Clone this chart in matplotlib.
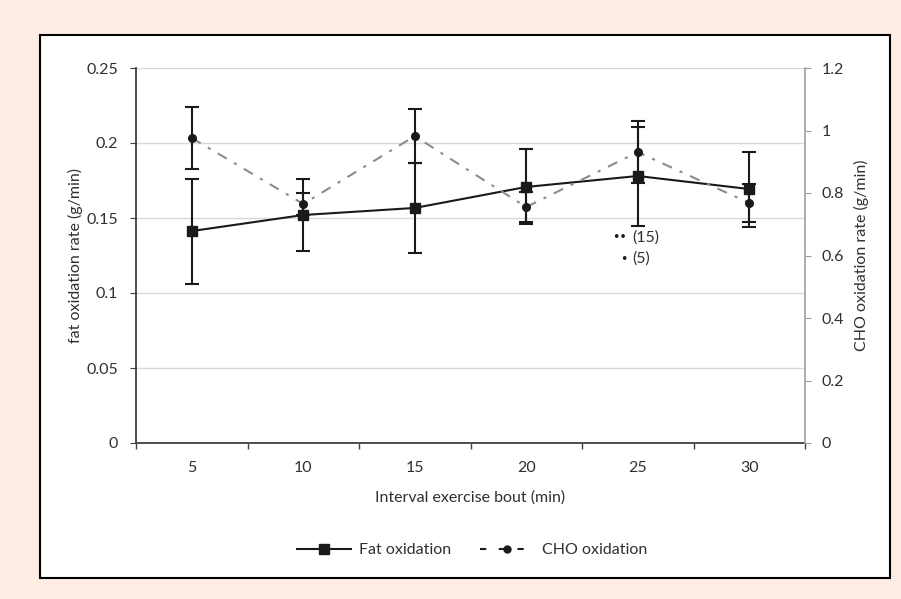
import matplotlib
matplotlib.use("Agg")
import matplotlib.pyplot as plt
from matplotlib.patches import Rectangle
from matplotlib.lines import Line2D

plt.rcParams['font.family'] = ['Lato', 'DejaVu Sans']

bouts = ["5", "10", "15", "20", "25", "30"]
fat_mean = [0.1413, 0.1520, 0.1567, 0.1707, 0.1780, 0.1693]
fat_err = [0.035, 0.024, 0.030, 0.025, 0.033, 0.025]
cho_mean = [0.976, 0.765, 0.982, 0.755, 0.931, 0.768]
cho_err = [0.099, 0.035, 0.086, 0.048, 0.099, 0.061]
left_ticks = [0, 0.05, 0.1, 0.15, 0.2, 0.25]
left_labels = ["0", "0.05", "0.1", "0.15", "0.2", "0.25"]
right_ticks = [0, 0.2, 0.4, 0.6, 0.8, 1.0, 1.2]
right_labels = ["0", "0.2", "0.4", "0.6", "0.8", "1", "1.2"]

W, H = 901, 599
fig = plt.figure(figsize=(W / 100, H / 100), dpi=100)
fig.patch.set_facecolor("#fdede4")
fig.patches.append(Rectangle((40 / W, 1 - 578 / H), 850 / W, 543 / H,
                             transform=fig.transFigure, facecolor="white",
                             edgecolor="black", linewidth=1.5, zorder=-5))

ax = fig.add_axes([136 / W, 1 - 443 / H, 669 / W, 375 / H])
ax.set_facecolor("none")
x = list(range(len(bouts)))

FS = 11.5
TC = "#303030"
ax.set_xlim(-0.5, len(bouts) - 0.5)
ax.set_ylim(0, 0.25)
ax.set_yticks(left_ticks)
ax.set_yticklabels(left_labels)
ax.grid(axis="y", color="#d9d9d9", linewidth=1)
ax.set_axisbelow(True)
ax.set_xticks([i - 0.5 for i in range(len(bouts) + 1)])
ax.set_xticklabels([])
ax.set_xticks(x, minor=True)
ax.set_xticklabels(bouts, minor=True)
ax.tick_params(axis="x", which="major", length=4, direction="out", color="#404040", width=1)
ax.tick_params(axis="x", which="minor", length=0, pad=13, labelsize=FS, labelcolor=TC)
ax.tick_params(axis="y", length=4, direction="out", color="#404040", labelsize=FS,
               labelcolor=TC, pad=9)
for s in ["top", "right"]:
    ax.spines[s].set_visible(False)
ax.spines["left"].set_color("#404040")
ax.spines["bottom"].set_color("#404040")
ax.spines["left"].set_linewidth(1.3)
ax.spines["bottom"].set_linewidth(1.3)

ax.errorbar(x, fat_mean, yerr=fat_err, color="#1a1a1a", marker="s", markersize=7,
            linewidth=1.5, elinewidth=1.5, capsize=5, capthick=1.5, zorder=3)

ax2 = ax.twinx()
ax2.set_ylim(0, 1.2)
ax2.set_yticks(right_ticks)
ax2.set_yticklabels(right_labels)
ax2.tick_params(axis="y", length=4, direction="out", color="#999999", labelsize=FS,
                labelcolor=TC, pad=8)
for s in ["top", "left", "bottom"]:
    ax2.spines[s].set_visible(False)
ax2.spines["right"].set_color("#a6a6a6")
ax2.spines["right"].set_linewidth(1.3)
ax2.plot(x, cho_mean, color="#8c8c8c", linestyle=(0, (5, 4, 1.5, 4)), linewidth=1.5, zorder=3)
ax2.errorbar(x, cho_mean, yerr=cho_err, color="#1a1a1a", marker="o", markersize=5.5,
             linestyle="none", elinewidth=1.5, capsize=5, capthick=1.5, zorder=4)

ax.set_ylabel("fat oxidation rate (g/min)", fontsize=FS, color=TC, labelpad=2)
ax2.set_ylabel("CHO oxidation rate (g/min)", fontsize=FS, color=TC, labelpad=7)
ax.set_xlabel("Interval exercise bout (min)", fontsize=FS, color=TC, labelpad=11)

ax.text((612 - 136) / 669, (443 - 238) / 375, "••", transform=ax.transAxes,
        fontsize=9, va="center", ha="left", color="#1a1a1a", family="DejaVu Sans")
ax.text((632 - 136) / 669, (443 - 238) / 375, "(15)", transform=ax.transAxes,
        fontsize=FS, va="center", ha="left", color=TC)
ax.text((620 - 136) / 669, (443 - 259) / 375, "•", transform=ax.transAxes,
        fontsize=9, va="center", ha="left", color="#1a1a1a", family="DejaVu Sans")
ax.text((632 - 136) / 669, (443 - 259) / 375, "(5)", transform=ax.transAxes,
        fontsize=FS, va="center", ha="left", color=TC)

h1 = Line2D([], [], color="#1a1a1a", marker="s", markersize=6.5, linewidth=1.5)
h2 = Line2D([], [], color="#1a1a1a", marker="o", markersize=5, linestyle=(0, (3, 6)),
            linewidth=1.5)
fig.legend([h1, h2], ["Fat oxidation", "CHO oxidation"], loc="center",
           bbox_to_anchor=(472 / W, 1 - 550 / H), ncol=2, frameon=False,
           fontsize=FS, handlelength=3.4, columnspacing=1.8, handletextpad=0.5,
           labelcolor=TC)

fig.savefig("out.png", dpi=100, facecolor=fig.get_facecolor())
